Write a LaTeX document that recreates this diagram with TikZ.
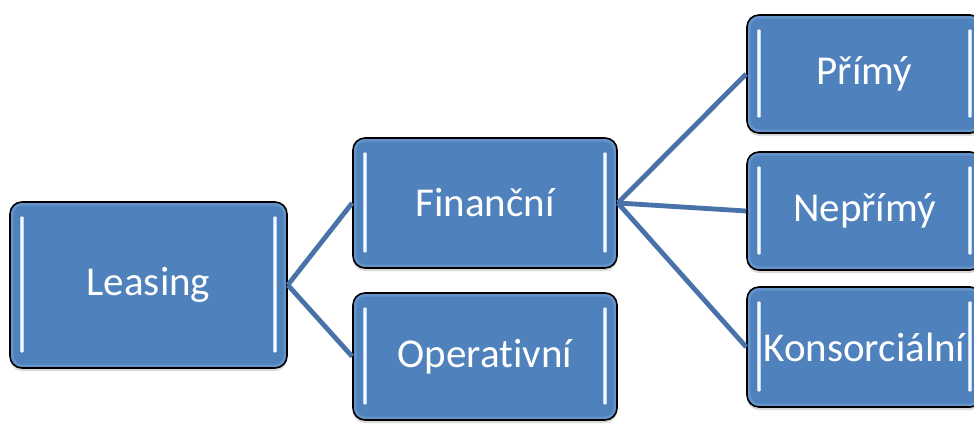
\documentclass[tikz,border=0pt]{standalone}
\usepackage{fontspec}
\setmainfont{Carlito}[RawFeature={-liga;-clig;-dlig;-calt}]
\usetikzlibrary{shadows}

\definecolor{boxblue}{HTML}{4F81BD}
\definecolor{linkblue}{HTML}{4872A8}
\definecolor{glowblue}{HTML}{A4C6EE}

\begin{document}
\begin{tikzpicture}[
        x=1pt, y=-1pt,
        bevel/.style={line cap=round, line width=1.6pt, draw=white!90!glowblue,
            preaction={draw=glowblue!70!white, line width=3.6pt}},
        box/.style={draw=black, line width=1.6pt, fill=boxblue, rounded corners=12pt,
            text=white, font=\fontsize{41}{48}\selectfont, inner sep=2pt,
            drop shadow={shadow xshift=0pt, shadow yshift=-3pt, opacity=0.3},
            path picture={
                % lighter rim inside the border
                \draw[line width=7pt, boxblue!75!glowblue, rounded corners=12pt]
                    (path picture bounding box.south west) rectangle (path picture bounding box.north east);
                % glossy strips on both sides
                \foreach \side/\dx in {west/12, east/-12} {
                    \draw[bevel] ([xshift=\dx pt, yshift=-15pt]path picture bounding box.north \side)
                        -- ([xshift=\dx pt, yshift=16pt]path picture bounding box.south \side);
                }
            }},
        link/.style={draw=linkblue, line width=4.8pt}
    ]
    \useasboundingbox (0,0) rectangle (974,423);

    % Tree of leasing types
    \node[box, minimum width=277pt, minimum height=166pt] (leasing) at (148.5,285) {Leasing};
    \node[box, minimum width=264pt, minimum height=130pt] (financni) at (485,203) {Finanční};
    \node[box, minimum width=264pt, minimum height=127pt] (operativni) at (485,356.5) {Operativní};
    \node[box, minimum width=235pt, minimum height=118pt] (primy) at (864.5,74) {Přímý};
    \node[box, minimum width=235pt, minimum height=118pt] (neprimy) at (864.5,211) {Nepřímý};
    \node[box, minimum width=235pt, minimum height=120pt] (konsorcialni) at (864.5,347) {Konsorciální};

    % Links
    \draw[link] (leasing.east) -- (financni.west);
    \draw[link] (leasing.east) -- (operativni.west);
    \draw[link] (financni.east) -- (primy.west);
    \draw[link] (financni.east) -- (neprimy.west);
    \draw[link] (financni.east) -- (konsorcialni.west);

\end{tikzpicture}
\end{document}
